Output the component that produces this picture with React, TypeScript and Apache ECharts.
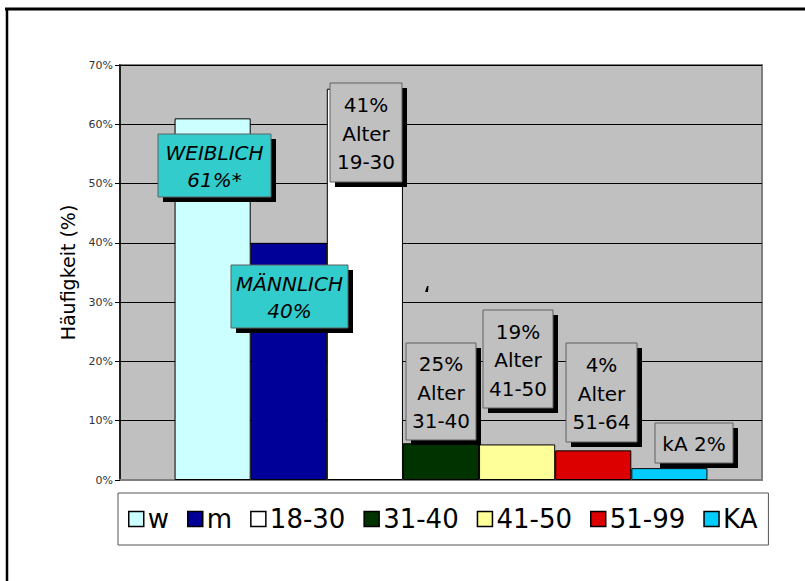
import React, { useEffect, useRef } from "react";
import * as echarts from "echarts";

// ---- data ----
const categories = ["w", "m", "18-30", "31-40", "41-50", "51-99", "KA"];
const values = [61, 40, 66, 6.2, 6, 5, 2];
const barColors = ["#CCFFFF", "#000099", "#FFFFFF", "#003300", "#FFFF99", "#DD0000", "#00CCFF"];
const yMin = 0;
const yMax = 70;
const yInterval = 10;
const yTitle = "Häufigkeit (%)";
const boxTexts = [
  ["WEIBLICH", "61%*"],
  ["MÄNNLICH", "40%"],
  ["41%", "Alter", "19-30"],
  ["25%", "Alter", "31-40"],
  ["19%", "Alter", "41-50"],
  ["4%", "Alter", "51-64"],
  ["kA 2%"],
];

// ---- annotation layout (pixels) ----
const boxLayout = [
  { x: 158, y: 134, w: 113, h: 63, fill: "#33CCCC", italic: true },
  { x: 231, y: 265, w: 117, h: 63, fill: "#33CCCC", italic: true },
  { x: 330, y: 83, w: 72, h: 99, fill: "#C0C0C0", italic: false },
  { x: 406, y: 343, w: 70, h: 97, fill: "#C0C0C0", italic: false },
  { x: 483, y: 310, w: 70, h: 98, fill: "#C0C0C0", italic: false },
  { x: 566, y: 343, w: 71, h: 99, fill: "#C0C0C0", italic: false },
  { x: 655, y: 423, w: 78, h: 40, fill: "#C0C0C0", italic: false },
];

const FONT = "'DejaVu Sans', Verdana, sans-serif";

export default function App() {
  const ref = useRef<HTMLDivElement>(null);
  useEffect(() => {
    if (!ref.current) return;
    const chart = echarts.init(ref.current, null, { renderer: "svg" });

    const series = categories.map((name, i) => ({
      name,
      type: "bar",
      data: [values[i]],
      barGap: "0%",
      barCategoryGap: "17%",
      itemStyle: { color: barColors[i], borderColor: "#000", borderWidth: 1 },
    }));

    const graphics: any[] = [
      { type: "line", shape: { x1: 5, y1: 9, x2: 805, y2: 9 }, style: { stroke: "#000", lineWidth: 3 }, z: 100 },
      { type: "line", shape: { x1: 7, y1: 8, x2: 7, y2: 581 }, style: { stroke: "#000", lineWidth: 2.5 }, z: 100 },
      {
        type: "polygon",
        shape: { points: [[425, 292], [427, 286], [428.5, 286], [428, 292]] },
        style: { fill: "#000" },
        z: 50,
      },
    ];
    boxLayout.forEach((b, i) => {
      const lines = boxTexts[i];
      graphics.push({
        type: "rect",
        shape: { x: b.x + 5, y: b.y + 5, width: b.w, height: b.h },
        style: { fill: "#000" },
        z: 50,
      });
      graphics.push({
        type: "rect",
        shape: { x: b.x, y: b.y, width: b.w, height: b.h },
        style: { fill: b.fill, stroke: "#606060", lineWidth: 1 },
        z: 51,
      });
      graphics.push({
        type: "text",
        x: b.x + b.w / 2,
        y: b.y + b.h / 2 + 1,
        style: {
          text: lines.join("\n"),
          align: "center",
          verticalAlign: "middle",
          fontSize: 20,
          lineHeight: lines.length === 3 ? 28.5 : 27,
          fontFamily: FONT,
          fontStyle: b.italic ? "italic" : "normal",
          fill: "#000",
        },
        z: 52,
      });
    });

    chart.setOption({
      animation: false,
      backgroundColor: "#fff",
      grid: {
        left: 120,
        top: 65,
        width: 642,
        height: 415,
        show: true,
        backgroundColor: "#C0C0C0",
        borderColor: "#808080",
        borderWidth: 2,
      },
      legend: {
        data: categories,
        left: 118,
        top: 493,
        padding: [13, 11, 13, 10],
        itemGap: 18,
        itemWidth: 15,
        itemHeight: 15,
        icon: "rect",
        borderColor: "#555",
        borderWidth: 1,
        backgroundColor: "#fff",
        itemStyle: { borderColor: "#000", borderWidth: 1.5 },
        textStyle: { fontSize: 26, fontFamily: FONT, color: "#000", padding: [0, 0, 0, -1] },
      },
      xAxis: {
        type: "category",
        data: [""],
        axisLine: { show: true, lineStyle: { color: "#808080", width: 2 } },
        axisTick: { show: false },
        axisLabel: { show: false },
      },
      yAxis: {
        type: "value",
        min: yMin,
        max: yMax,
        interval: yInterval,
        name: yTitle,
        nameLocation: "middle",
        nameGap: 37,
        nameTextStyle: { fontSize: 19, fontFamily: FONT, color: "#000" },
        axisLine: { show: true, lineStyle: { color: "#000", width: 1.5 } },
        axisTick: { show: true, length: 5, lineStyle: { color: "#000" } },
        axisLabel: { formatter: "{value}%", fontSize: 11, fontFamily: FONT, color: "#333", margin: 7 },
        splitLine: { show: true, lineStyle: { color: "#000", width: 1 } },
      },
      series,
      graphic: graphics,
    });
    return () => chart.dispose();
  }, []);
  return (
    <div
      ref={ref}
      style={{ position: "fixed", left: 0, top: 0, width: 805, height: 581, background: "#fff", overflow: "hidden" }}
    />
  );
}
